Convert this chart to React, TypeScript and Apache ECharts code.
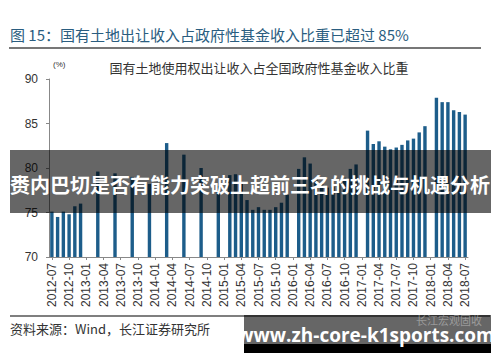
import React, { useEffect, useRef } from "react";
import * as echarts from "echarts";

const HEADER = "图 15：国有土地出让收入占政府性基金收入比重已超过 85%";
const CHART_TITLE = "国有土地使用权出让收入占全国政府性基金收入比重";
const UNIT = "(%)";
const SOURCE = "资料来源：Wind，长江证券研究所";
const BANNER = "赉内巴切是否有能力突破土超前三名的挑战与机遇分析";
const SITE = "www.zh-core-k1sports.com";
const MARK = "长江宏观固收";

// months covered: 2012-07 .. 2018-07
const FIRST_YEAR = 2012;
const FIRST_MONTH = 7;
const LAST_YEAR = 2018;
const LAST_MONTH = 7;

// share (%) by month; null = no data for that month
const share2012: (number | null)[] = [75.1, 74.5, 75.1, 74.8, 75.7, 76.0]; // Jul-Dec
const share2013: (number | null)[] = [null, null, 79.6, null, null, 79.4, null, null, 79.0, null, null, 78.2];
const share2014: (number | null)[] = [null, null, 82.8, null, null, 81.5, null, null, 80.0, null, null, 78.0];
const share2015: (number | null)[] = [null, 79.2, 79.3, 78.3, 76.4, 75.3, 75.6, 75.3, 75.3, 75.6, 76.1, 77.0];
const share2016: (number | null)[] = [null, 79.9, 81.2, 80.5, 78.8, 78.2, 77.8, 77.9, 78.3, 78.9, 79.9, 80.4];
const share2017: (number | null)[] = [null, 84.2, 82.7, 83.0, 82.4, 82.1, 82.3, 82.6, 83.1, 83.3, 84.0, 84.7];
const share2018: (number | null)[] = [null, 87.9, 87.4, 87.4, 86.5, 86.3, 86.0]; // Jan-Jul

const Y_MIN = 70;
const Y_MAX = 90;
const Y_STEP = 5;

function buildMonths(): string[] {
  const out: string[] = [];
  let y = FIRST_YEAR;
  let m = FIRST_MONTH;
  while (y < LAST_YEAR || (y === LAST_YEAR && m <= LAST_MONTH)) {
    out.push(`${y}-${m < 10 ? "0" + m : m}`);
    m++;
    if (m > 12) {
      m = 1;
      y++;
    }
  }
  return out;
}

const months = buildMonths();
const shares = [
  ...share2012,
  ...share2013,
  ...share2014,
  ...share2015,
  ...share2016,
  ...share2017,
  ...share2018,
];

const CJK = '"Noto Sans CJK SC", "Noto Sans", sans-serif';
const LAT = '"Liberation Sans", Arial, sans-serif';

export default function App() {
  const ref = useRef<HTMLDivElement>(null);

  useEffect(() => {
    document.body.style.margin = "0";
    if (!ref.current) return;
    const chart = echarts.init(ref.current, undefined, { renderer: "svg" });
    const txt = (
      text: string,
      x: number,
      y: number,
      fontSize: number,
      fill: string,
      align: string,
      opts: any = {}
    ) => ({
      type: "text",
      x,
      y,
      z: opts.z ?? 50,
      style: {
        text,
        fontSize,
        fontFamily: opts.fontFamily ?? CJK,
        fontWeight: opts.fontWeight ?? "normal",
        fill,
        align,
        verticalAlign: "middle",
        textAlign: align,
        textVerticalAlign: "middle",
      },
    });

    chart.setOption({
      animation: false,
      backgroundColor: "#ffffff",
      grid: { left: 49, right: 32, top: 79, bottom: 105, containLabel: false },
      xAxis: {
        type: "category",
        data: months,
        boundaryGap: true,
        axisLine: { show: true, lineStyle: { color: "#888", width: 1 } },
        axisTick: {
          show: true,
          alignWithLabel: true,
          interval: 2,
          length: 3,
          lineStyle: { color: "#888" },
        },
        axisLabel: {
          interval: 2,
          rotate: 90,
          margin: 6,
          fontSize: 12,
          color: "#333",
          fontFamily: LAT,
        },
        splitLine: { show: false },
      },
      yAxis: {
        type: "value",
        min: Y_MIN,
        max: Y_MAX,
        interval: Y_STEP,
        axisLine: { show: true, lineStyle: { color: "#888", width: 1 } },
        axisTick: { show: true, length: 3, lineStyle: { color: "#888" } },
        axisLabel: { margin: 11, fontSize: 12, color: "#333", fontFamily: LAT },
        splitLine: { show: false },
      },
      series: [
        {
          type: "bar",
          data: shares,
          barWidth: 3.4,
          itemStyle: { color: "#1d5d8a" },
        },
      ],
      graphic: [
        txt(HEADER, 10, 34, 15, "#2a5d80", "left"),
        {
          type: "line",
          z: 50,
          shape: { x1: 9, y1: 48, x2: 481, y2: 48 },
          style: { stroke: "#777", lineWidth: 2 },
        },
        txt(CHART_TITLE, 259, 67, 13, "#333", "center"),
        txt(UNIT, 53, 64, 8, "#333", "left", { fontFamily: LAT }),
        {
          type: "line",
          z: 50,
          shape: { x1: 10, y1: 316, x2: 490, y2: 316 },
          style: { stroke: "#555", lineWidth: 1.5 },
        },
        txt(SOURCE, 10, 328, 13, "#333", "left"),
        {
          type: "rect",
          z: 100,
          shape: { x: 10, y: 150, width: 481, height: 63 },
          style: { fill: "rgba(0,0,0,0.6)" },
        },
        txt(BANNER, 250, 184, 20, "#ffffff", "center", { z: 101, fontWeight: "bold" }),
        {
          type: "rect",
          z: 100,
          shape: { x: 244, y: 315, width: 247, height: 29 },
          style: { fill: "rgba(0,0,0,0.6)" },
        },
        {
          type: "rect",
          z: 100,
          shape: { x: 244, y: 344, width: 247, height: 9 },
          style: { fill: "#000000" },
        },
        txt(MARK, 449, 320, 11, "rgba(200,200,200,0.55)", "center", { z: 101 }),
        txt(SITE, 366, 335, 19, "#ffffff", "center", {
          z: 102,
          fontWeight: "bold",
          fontFamily: '"Open Sans", "Noto Sans", sans-serif',
        }),
      ],
    });

    return () => chart.dispose();
  }, []);

  return (
    <div
      ref={ref}
      style={{ position: "fixed", left: 0, top: 0, width: 500, height: 362 }}
    />
  );
}
